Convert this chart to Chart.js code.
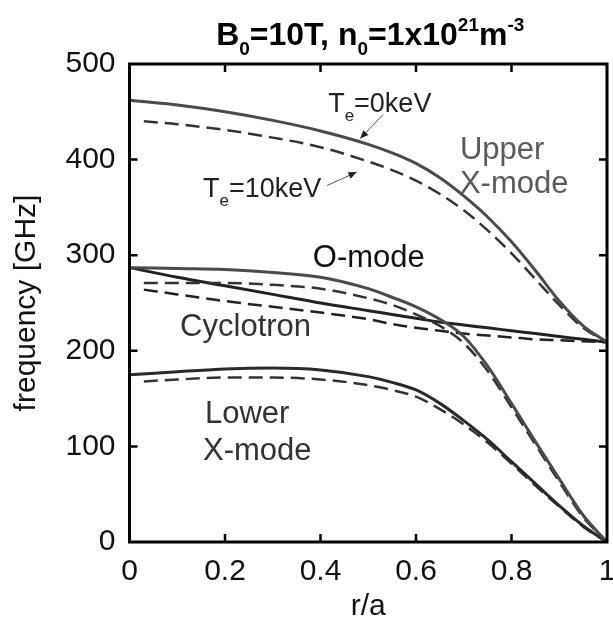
<!DOCTYPE html>
<html>
<head>
<meta charset="utf-8">
<script src="https://cdn.jsdelivr.net/npm/chart.js@4.4.1/dist/chart.umd.min.js"></script>
<style>
  html, body { margin: 0; padding: 0; background: #fff; }
  #wrap { width: 613px; height: 622px; }
</style>
</head>
<body>
<div id="wrap"><canvas id="chart" width="613" height="622"></canvas></div>
<script>
// ---- data ----
const rSolid  = [0, 0.1, 0.2, 0.3, 0.4, 0.5, 0.55, 0.6, 0.65, 0.7, 0.75, 0.8, 0.85, 0.9, 0.95, 1.0];
const rDashed = [0.03, 0.1, 0.2, 0.3, 0.4, 0.5, 0.55, 0.6, 0.65, 0.7, 0.75, 0.8, 0.85, 0.9, 0.95, 1.0];

const upperX0  = [462, 457, 450, 441, 430, 416, 407, 396, 381, 362, 340, 314, 284, 252, 226, 209];
const upperX10 = [440, 437, 431, 423, 413, 398, 389, 378, 364, 347, 326, 302, 275, 248, 224, 209];
const oMode0   = [287, 286, 285, 282, 277, 265, 256, 246, 233, 215, 184, 145, 105, 66, 28, 0];
const oMode10  = [271, 271, 271, 269, 265, 255, 248, 238, 226, 208, 179, 141, 102, 63, 26, 0];
const cyclo0   = [287, 277, 268, 259, 250, 242, 238, 234, 230, 227, 224, 221, 218, 215, 212, 209];
const cyclo10  = [264, 259, 252, 246, 240, 233, 228, 224, 221, 218, 216, 214, 212, 211, 210, 209];
const lowerX0  = [175, 178, 181, 182, 180, 173, 167, 159, 145, 127, 107, 84, 61, 38, 17, 0];
const lowerX10 = [168, 170, 172, 172, 170, 164, 159, 152, 139, 123, 104, 82, 59, 37, 16, 0];

const xTicks = [0, 0.2, 0.4, 0.6, 0.8, 1];
const yTicks = [0, 100, 200, 300, 400, 500];

const FONT = '"Liberation Sans", Arial, Helvetica, sans-serif';

function pts(xs, ys) {
  return xs.map((x, i) => ({ x: x, y: ys[i] }));
}

function solid(data, color) {
  return { data, borderColor: color, borderWidth: 3, pointRadius: 0,
           cubicInterpolationMode: 'monotone', fill: false };
}
function dashed(data, color) {
  return { data, borderColor: color, borderWidth: 2.5, borderDash: [14, 7], pointRadius: 0,
           cubicInterpolationMode: 'monotone', fill: false };
}

// text labels placed in data coordinates (r/a, GHz)
const labels = [
  { text: 'Upper',     r: 0.692, f: 401, color: '#5a5a5a' },
  { text: 'X-mode',    r: 0.692, f: 365, color: '#5a5a5a' },
  { text: 'O-mode',    r: 0.384, f: 288, color: '#111' },
  { text: 'Cyclotron', r: 0.106, f: 216, color: '#333' },
  { text: 'Lower',     r: 0.158, f: 125, color: '#333' },
  { text: 'X-mode',    r: 0.154, f: 86,  color: '#333' }
];
const tempLabels = [
  { main: 'T', sub: 'e', rest: '=0keV',  r: 0.416, f: 450 },
  { main: 'T', sub: 'e', rest: '=10keV', r: 0.154, f: 361 }
];
const arrows = [
  { r1: 0.531, f1: 447, r2: 0.483, f2: 422 },
  { r1: 0.414, f1: 373, r2: 0.476, f2: 387 }
];

// ======== plugin: frame, inward ticks, title, annotations ========
const decor = {
  id: 'decor',
  afterDraw(chart) {
    const ctx = chart.ctx;
    const a = chart.chartArea;
    const xs = chart.scales.x, ys = chart.scales.y;
    ctx.save();

    // frame
    ctx.strokeStyle = '#000';
    ctx.lineWidth = 3;
    ctx.strokeRect(a.left, a.top, a.right - a.left, a.bottom - a.top);

    // inward ticks
    ctx.lineWidth = 2.5;
    const tl = 8;
    xTicks.slice(1, -1).forEach(v => {
      const px = xs.getPixelForValue(v);
      ctx.beginPath();
      ctx.moveTo(px, a.bottom); ctx.lineTo(px, a.bottom - tl);
      ctx.moveTo(px, a.top);    ctx.lineTo(px, a.top + tl);
      ctx.stroke();
    });
    yTicks.slice(1, -1).forEach(v => {
      const py = ys.getPixelForValue(v);
      ctx.beginPath();
      ctx.moveTo(a.left, py);  ctx.lineTo(a.left + tl, py);
      ctx.moveTo(a.right, py); ctx.lineTo(a.right - tl, py);
      ctx.stroke();
    });

    // title with sub/superscripts
    const big = 'bold 32px ' + FONT, small = 'bold 19px ' + FONT;
    const parts = [
      { t: 'B', f: big, dy: 0 }, { t: '0', f: small, dy: 10 },
      { t: '=10T, n', f: big, dy: 0 }, { t: '0', f: small, dy: 10 },
      { t: '=1x10', f: big, dy: 0 }, { t: '21', f: small, dy: -14 },
      { t: 'm', f: big, dy: 0 }, { t: '-3', f: small, dy: -14 }
    ];
    let total = 0;
    parts.forEach(p => { ctx.font = p.f; p.w = ctx.measureText(p.t).width; total += p.w; });
    let x = (a.left + a.right) / 2 - total / 2 + 2;
    const base = 45;
    ctx.fillStyle = '#000';
    ctx.textBaseline = 'alphabetic';
    ctx.textAlign = 'left';
    parts.forEach(p => { ctx.font = p.f; ctx.fillText(p.t, x, base + p.dy); x += p.w; });

    // curve labels
    ctx.font = '31px ' + FONT;
    labels.forEach(l => {
      ctx.fillStyle = l.color;
      ctx.fillText(l.text, xs.getPixelForValue(l.r), ys.getPixelForValue(l.f));
    });

    // temperature labels
    ctx.fillStyle = '#222';
    tempLabels.forEach(l => {
      let px = xs.getPixelForValue(l.r);
      const py = ys.getPixelForValue(l.f);
      ctx.font = '27px ' + FONT;
      ctx.fillText(l.main, px, py);
      px += ctx.measureText(l.main).width;
      ctx.font = '17px ' + FONT;
      ctx.fillText(l.sub, px, py + 9);
      px += ctx.measureText(l.sub).width;
      ctx.font = '27px ' + FONT;
      ctx.fillText(l.rest, px, py);
    });

    // arrows
    ctx.strokeStyle = '#555';
    ctx.fillStyle = '#222';
    ctx.lineWidth = 1;
    arrows.forEach(ar => {
      const x1 = xs.getPixelForValue(ar.r1), y1 = ys.getPixelForValue(ar.f1);
      const x2 = xs.getPixelForValue(ar.r2), y2 = ys.getPixelForValue(ar.f2);
      ctx.beginPath(); ctx.moveTo(x1, y1); ctx.lineTo(x2, y2); ctx.stroke();
      const ang = Math.atan2(y2 - y1, x2 - x1), L = 9, W = 0.4;
      ctx.beginPath();
      ctx.moveTo(x2, y2);
      ctx.lineTo(x2 - L * Math.cos(ang - W), y2 - L * Math.sin(ang - W));
      ctx.lineTo(x2 - L * Math.cos(ang + W), y2 - L * Math.sin(ang + W));
      ctx.closePath(); ctx.fill();
    });

    ctx.restore();
  }
};

new Chart(document.getElementById('chart'), {
  type: 'line',
  data: {
    datasets: [
      solid(pts(rSolid, upperX0), '#4a4a4a'),
      dashed(pts(rDashed, upperX10), '#333'),
      solid(pts(rSolid, oMode0), '#4a4a4a'),
      dashed(pts(rDashed, oMode10), '#333'),
      solid(pts(rSolid, cyclo0), '#222'),
      dashed(pts(rDashed, cyclo10), '#222'),
      solid(pts(rSolid, lowerX0), '#2a2a2a'),
      dashed(pts(rDashed, lowerX10), '#333')
    ]
  },
  options: {
    responsive: false,
    animation: false,
    devicePixelRatio: 1,
    layout: { padding: { top: 64, right: 6, left: 0, bottom: 0 } },
    plugins: { legend: { display: false }, tooltip: { enabled: false } },
    scales: {
      x: {
        type: 'linear', min: 0, max: 1,
        afterBuildTicks: s => { s.ticks = xTicks.map(v => ({ value: v })); },
        afterFit: s => { s.height = 80; s.paddingLeft = 0; s.paddingRight = 6; },
        grid: { display: false, drawTicks: false },
        border: { display: false },
        ticks: { color: '#111', font: { family: FONT, size: 30 }, padding: 12, maxRotation: 0,
                 callback: v => String(Number(v.toFixed(1))) },
        title: { display: true, text: 'r/a', color: '#111', font: { family: FONT, size: 30, lineHeight: 1 }, padding: 0 }
      },
      y: {
        type: 'linear', min: 0, max: 500,
        afterBuildTicks: s => { s.ticks = yTicks.map(v => ({ value: v })); },
        afterFit: s => { s.width = 129.5; },
        grid: { display: false, drawTicks: false },
        border: { display: false },
        ticks: { color: '#111', font: { family: FONT, size: 30 }, padding: 14 },
        title: { display: true, text: 'frequency [GHz]', color: '#111', font: { family: FONT, size: 30, lineHeight: 1 }, padding: { top: 12, bottom: 0 } }
      }
    }
  },
  plugins: [decor]
});
</script>
</body>
</html>
